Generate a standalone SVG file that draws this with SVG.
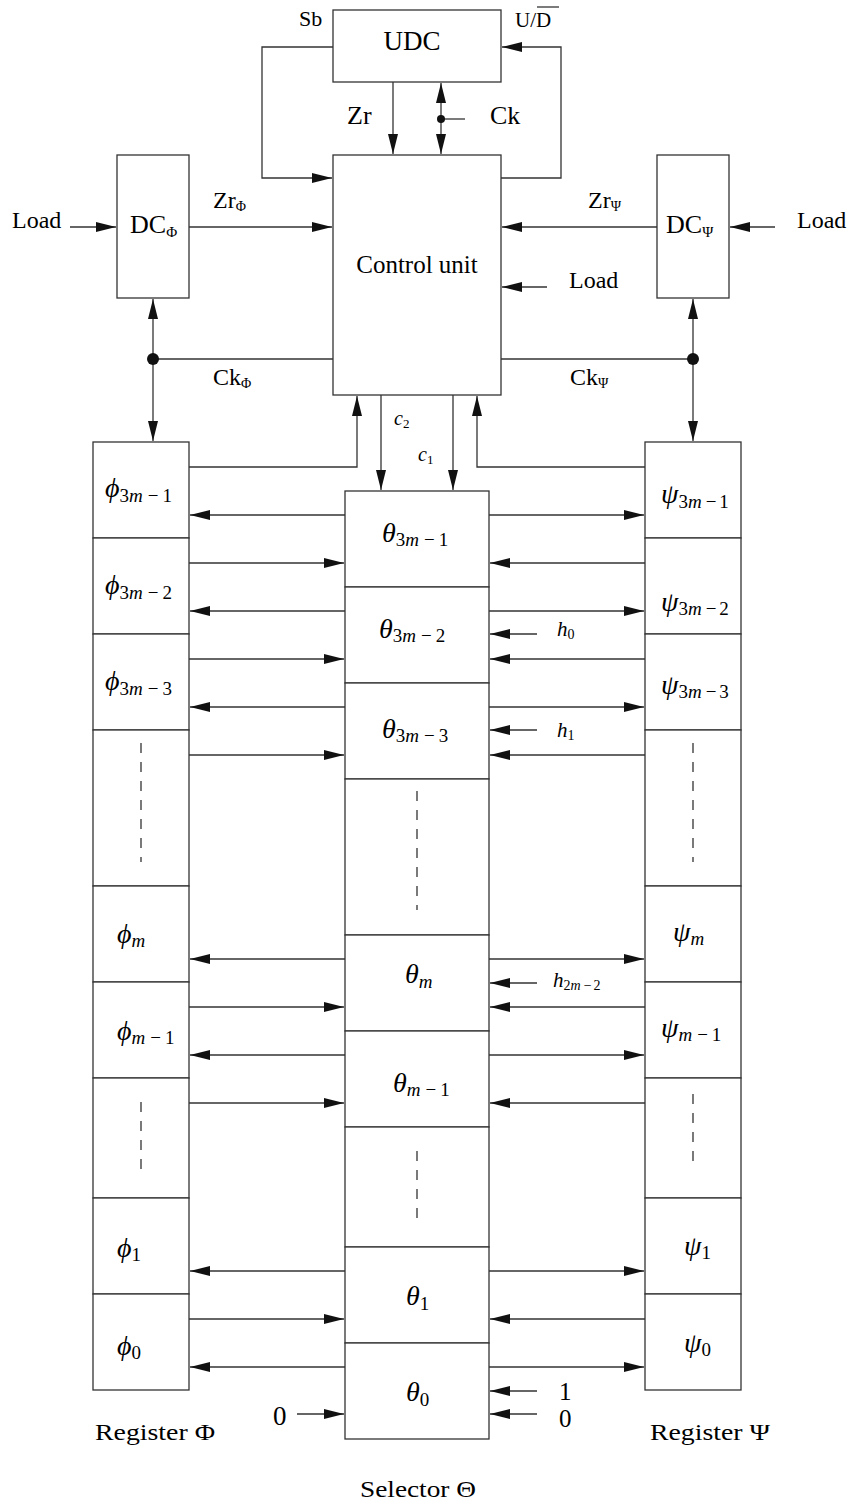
<svg xmlns="http://www.w3.org/2000/svg" width="852" height="1508" viewBox="0 0 852 1508">
<defs>
<marker id="arr" markerUnits="userSpaceOnUse" markerWidth="20" markerHeight="10" refX="20" refY="5" orient="auto-start-reverse" viewBox="0 0 20 10"><path d="M0,0 L20,5 L0,10 z" fill="#111"/></marker>
<style>
.box{fill:#fff;stroke:#333;stroke-width:1.3}
.ln{fill:none;stroke:#333;stroke-width:1.3}
.ar{marker-end:url(#arr)}
.ar2{marker-start:url(#arr);marker-end:url(#arr)}
.dash{fill:none;stroke:#333;stroke-width:1.3;stroke-dasharray:10 9}
.dot{fill:#111}
text{font-family:"Liberation Serif","DejaVu Serif",serif;fill:#000}
.lb{font-size:24px}
.g{font-size:28px;font-style:italic}
.s{font-size:19px}
.i{font-style:italic}
.h{font-size:21px;font-style:italic}
.hs{font-size:14px;font-style:normal}
</style>
</defs>

<!-- up/down counter -->
<g id="udc">
<rect class="box" x="333" y="10" width="168" height="72"/>
<text class="lb" x="412" y="50" text-anchor="middle" style="font-size:27px">UDC</text>
<text x="299" y="26" style="font-size:22px">Sb</text>
<text x="515" y="27" style="font-size:21px">U/D</text>
<line class="ln" x1="537" y1="7" x2="559" y2="7"/>
</g>

<!-- control unit -->
<g id="control-unit">
<rect class="box" x="333" y="155" width="168" height="240"/>
<text class="lb" x="417" y="273" text-anchor="middle" style="font-size:25px">Control unit</text>
</g>

<!-- down counters -->
<g id="dc-phi">
<rect class="box" x="117" y="155" width="72" height="143"/>
<text class="lb" x="130" y="233" style="font-size:26px">DC<tspan style="font-size:15px" dy="4">Φ</tspan></text>
</g>
<g id="dc-psi">
<rect class="box" x="657" y="155" width="72" height="143"/>
<text class="lb" x="666" y="233" style="font-size:26px">DC<tspan style="font-size:15px" dy="4">Ψ</tspan></text>
</g>

<!-- register Phi -->
<g id="register-phi">
<rect class="box" x="93" y="442" width="96" height="96"/>
<rect class="box" x="93" y="538" width="96" height="96"/>
<rect class="box" x="93" y="634" width="96" height="96"/>
<rect class="box" x="93" y="730" width="96" height="156"/>
<rect class="box" x="93" y="886" width="96" height="96"/>
<rect class="box" x="93" y="982" width="96" height="96"/>
<rect class="box" x="93" y="1078" width="96" height="120"/>
<rect class="box" x="93" y="1198" width="96" height="96"/>
<rect class="box" x="93" y="1294" width="96" height="96"/>
<line class="dash" x1="141" y1="743" x2="141" y2="862"/>
<line class="dash" x1="141" y1="1102" x2="141" y2="1177"/>
<text x="105" y="497"><tspan class="g">ϕ</tspan><tspan class="s" dy="5">3<tspan class="i">m</tspan><tspan dx="5">−</tspan><tspan dx="4">1</tspan></tspan></text>
<text x="105" y="594"><tspan class="g">ϕ</tspan><tspan class="s" dy="5">3<tspan class="i">m</tspan><tspan dx="5">−</tspan><tspan dx="4">2</tspan></tspan></text>
<text x="105" y="690"><tspan class="g">ϕ</tspan><tspan class="s" dy="5">3<tspan class="i">m</tspan><tspan dx="5">−</tspan><tspan dx="4">3</tspan></tspan></text>
<text x="117" y="943"><tspan class="g">ϕ</tspan><tspan class="s i" dy="4">m</tspan></text>
<text x="117" y="1040"><tspan class="g">ϕ</tspan><tspan class="s" dy="4"><tspan class="i">m</tspan><tspan dx="5">−</tspan><tspan dx="4">1</tspan></tspan></text>
<text x="117" y="1257"><tspan class="g">ϕ</tspan><tspan class="s" dy="4">1</tspan></text>
<text x="117" y="1355"><tspan class="g">ϕ</tspan><tspan class="s" dy="4">0</tspan></text>
<text class="lb" x="95" y="1440" textLength="120" lengthAdjust="spacingAndGlyphs">Register Φ</text>
</g>

<!-- selector Theta -->
<g id="selector-theta">
<rect class="box" x="345" y="491" width="144" height="96"/>
<rect class="box" x="345" y="587" width="144" height="96"/>
<rect class="box" x="345" y="683" width="144" height="96"/>
<rect class="box" x="345" y="779" width="144" height="156"/>
<rect class="box" x="345" y="935" width="144" height="96"/>
<rect class="box" x="345" y="1031" width="144" height="96"/>
<rect class="box" x="345" y="1127" width="144" height="120"/>
<rect class="box" x="345" y="1247" width="144" height="96"/>
<rect class="box" x="345" y="1343" width="144" height="96"/>
<line class="dash" x1="417" y1="791" x2="417" y2="910"/>
<line class="dash" x1="417" y1="1151" x2="417" y2="1226"/>
<text x="382" y="542"><tspan class="g">θ</tspan><tspan class="s" dy="4">3<tspan class="i">m</tspan><tspan dx="5">−</tspan><tspan dx="4">1</tspan></tspan></text>
<text x="379" y="638"><tspan class="g">θ</tspan><tspan class="s" dy="4">3<tspan class="i">m</tspan><tspan dx="5">−</tspan><tspan dx="4">2</tspan></tspan></text>
<text x="382" y="738"><tspan class="g">θ</tspan><tspan class="s" dy="4">3<tspan class="i">m</tspan><tspan dx="5">−</tspan><tspan dx="4">3</tspan></tspan></text>
<text x="405" y="983"><tspan class="g">θ</tspan><tspan class="s i" dy="5">m</tspan></text>
<text x="393" y="1092"><tspan class="g">θ</tspan><tspan class="s" dy="4"><tspan class="i">m</tspan><tspan dx="5">−</tspan><tspan dx="4">1</tspan></tspan></text>
<text x="406" y="1305"><tspan class="g">θ</tspan><tspan class="s" dy="5">1</tspan></text>
<text x="406" y="1401"><tspan class="g">θ</tspan><tspan class="s" dy="5">0</tspan></text>
<text class="lb" x="360" y="1497" textLength="116" lengthAdjust="spacingAndGlyphs">Selector Θ</text>
</g>

<!-- register Psi -->
<g id="register-psi">
<rect class="box" x="645" y="442" width="96" height="96"/>
<rect class="box" x="645" y="538" width="96" height="96"/>
<rect class="box" x="645" y="634" width="96" height="96"/>
<rect class="box" x="645" y="730" width="96" height="156"/>
<rect class="box" x="645" y="886" width="96" height="96"/>
<rect class="box" x="645" y="982" width="96" height="96"/>
<rect class="box" x="645" y="1078" width="96" height="120"/>
<rect class="box" x="645" y="1198" width="96" height="96"/>
<rect class="box" x="645" y="1294" width="96" height="96"/>
<line class="dash" x1="693" y1="743" x2="693" y2="862"/>
<line class="dash" x1="693" y1="1094" x2="693" y2="1169"/>
<text x="661" y="503"><tspan class="g">ψ</tspan><tspan class="s" dy="5">3<tspan class="i">m</tspan><tspan dx="4">−</tspan><tspan dx="3">1</tspan></tspan></text>
<text x="661" y="611"><tspan class="g">ψ</tspan><tspan class="s" dy="4">3<tspan class="i">m</tspan><tspan dx="4">−</tspan><tspan dx="3">2</tspan></tspan></text>
<text x="661" y="694"><tspan class="g">ψ</tspan><tspan class="s" dy="4">3<tspan class="i">m</tspan><tspan dx="4">−</tspan><tspan dx="3">3</tspan></tspan></text>
<text x="673" y="941"><tspan class="g">ψ</tspan><tspan class="s i" dy="4">m</tspan></text>
<text x="661" y="1037"><tspan class="g">ψ</tspan><tspan class="s" dy="4"><tspan class="i">m</tspan><tspan dx="5">−</tspan><tspan dx="4">1</tspan></tspan></text>
<text x="684" y="1255"><tspan class="g">ψ</tspan><tspan class="s" dy="4">1</tspan></text>
<text x="684" y="1352"><tspan class="g">ψ</tspan><tspan class="s" dy="4">0</tspan></text>
<text class="lb" x="650" y="1440" textLength="120" lengthAdjust="spacingAndGlyphs">Register Ψ</text>
</g>

<!-- signal lines -->
<g id="connectors">
<path class="ln ar" d="M333,47 H262 V178 H332"/>
<path class="ln ar" d="M501,178 H561 V47 H502"/>
<path class="ln ar" d="M393,82 V154"/>
<path class="ln ar2" d="M441,83 V154"/>
<path class="ln" d="M441,119 H465"/>
<circle class="dot" cx="441" cy="119" r="4"/>
<path class="ln ar" d="M70,227 H116"/>
<path class="ln ar" d="M189,227 H332"/>
<path class="ln ar" d="M657,227 H502"/>
<path class="ln ar" d="M775,227 H730"/>
<path class="ln ar" d="M547,287 H502"/>
<path class="ln" d="M333,359 H153"/>
<path class="ln ar2" d="M153,299 V441"/>
<circle class="dot" cx="153" cy="359" r="6"/>
<path class="ln" d="M501,359 H693"/>
<path class="ln ar2" d="M693,299 V441"/>
<circle class="dot" cx="693" cy="359" r="6"/>
<path class="ln ar" d="M189,467 H357 V396"/>
<path class="ln ar" d="M381,395 V490"/>
<path class="ln ar" d="M453,395 V490"/>
<path class="ln ar" d="M645,467 H477 V396"/>

<!-- theta rows: outgoing to registers -->
<path class="ln ar" d="M345,515 H190"/><path class="ln ar" d="M489,515 H644"/>
<path class="ln ar" d="M345,611 H190"/><path class="ln ar" d="M489,611 H644"/>
<path class="ln ar" d="M345,707 H190"/><path class="ln ar" d="M489,707 H644"/>
<path class="ln ar" d="M345,959 H190"/><path class="ln ar" d="M489,959 H644"/>
<path class="ln ar" d="M345,1055 H190"/><path class="ln ar" d="M489,1055 H644"/>
<path class="ln ar" d="M345,1271 H190"/><path class="ln ar" d="M489,1271 H644"/>
<path class="ln ar" d="M345,1367 H190"/><path class="ln ar" d="M489,1367 H644"/>

<!-- registers into theta rows -->
<path class="ln ar" d="M189,563 H344"/><path class="ln ar" d="M645,563 H490"/>
<path class="ln ar" d="M189,659 H344"/><path class="ln ar" d="M645,659 H490"/>
<path class="ln ar" d="M189,755 H344"/><path class="ln ar" d="M645,755 H490"/>
<path class="ln ar" d="M189,1007 H344"/><path class="ln ar" d="M645,1007 H490"/>
<path class="ln ar" d="M189,1103 H344"/><path class="ln ar" d="M645,1103 H490"/>
<path class="ln ar" d="M189,1319 H344"/><path class="ln ar" d="M645,1319 H490"/>

<!-- coefficient and constant inputs -->
<path class="ln ar" d="M537,634 H490"/>
<path class="ln ar" d="M537,730 H490"/>
<path class="ln ar" d="M537,983 H490"/>
<path class="ln ar" d="M537,1391 H490"/>
<path class="ln ar" d="M537,1414 H490"/>
<path class="ln ar" d="M297,1414 H344"/>
</g>

<!-- line labels -->
<g id="labels">
<text class="lb" x="12" y="228">Load</text>
<text class="lb" x="797" y="228">Load</text>
<text class="lb" x="569" y="288">Load</text>
<text x="347" y="124" style="font-size:26px">Zr</text>
<text x="490" y="124" style="font-size:26px">Ck</text>
<text x="213" y="208" style="font-size:24px">Zr<tspan style="font-size:14px" dy="3">Φ</tspan></text>
<text x="588" y="208" style="font-size:24px">Zr<tspan style="font-size:14px" dy="3">Ψ</tspan></text>
<text x="213" y="385" style="font-size:24px">Ck<tspan style="font-size:14px" dy="3">Φ</tspan></text>
<text x="570" y="385" style="font-size:24px">Ck<tspan style="font-size:14px" dy="3">Ψ</tspan></text>
<text x="394" y="425"><tspan class="i" style="font-size:20px">c</tspan><tspan style="font-size:13px" dy="3">2</tspan></text>
<text x="418" y="461"><tspan class="i" style="font-size:20px">c</tspan><tspan style="font-size:13px" dy="3">1</tspan></text>
<text x="557" y="636"><tspan class="h">h</tspan><tspan class="hs" dy="3">0</tspan></text>
<text x="557" y="737"><tspan class="h">h</tspan><tspan class="hs" dy="3">1</tspan></text>
<text x="553" y="987"><tspan class="h">h</tspan><tspan class="hs" dy="3">2<tspan class="i">m</tspan><tspan dx="3">−</tspan><tspan dx="2">2</tspan></tspan></text>
<text x="273" y="1425" style="font-size:27px">0</text>
<text x="559" y="1400" style="font-size:25px">1</text>
<text x="559" y="1427" style="font-size:25px">0</text>
</g>
</svg>
